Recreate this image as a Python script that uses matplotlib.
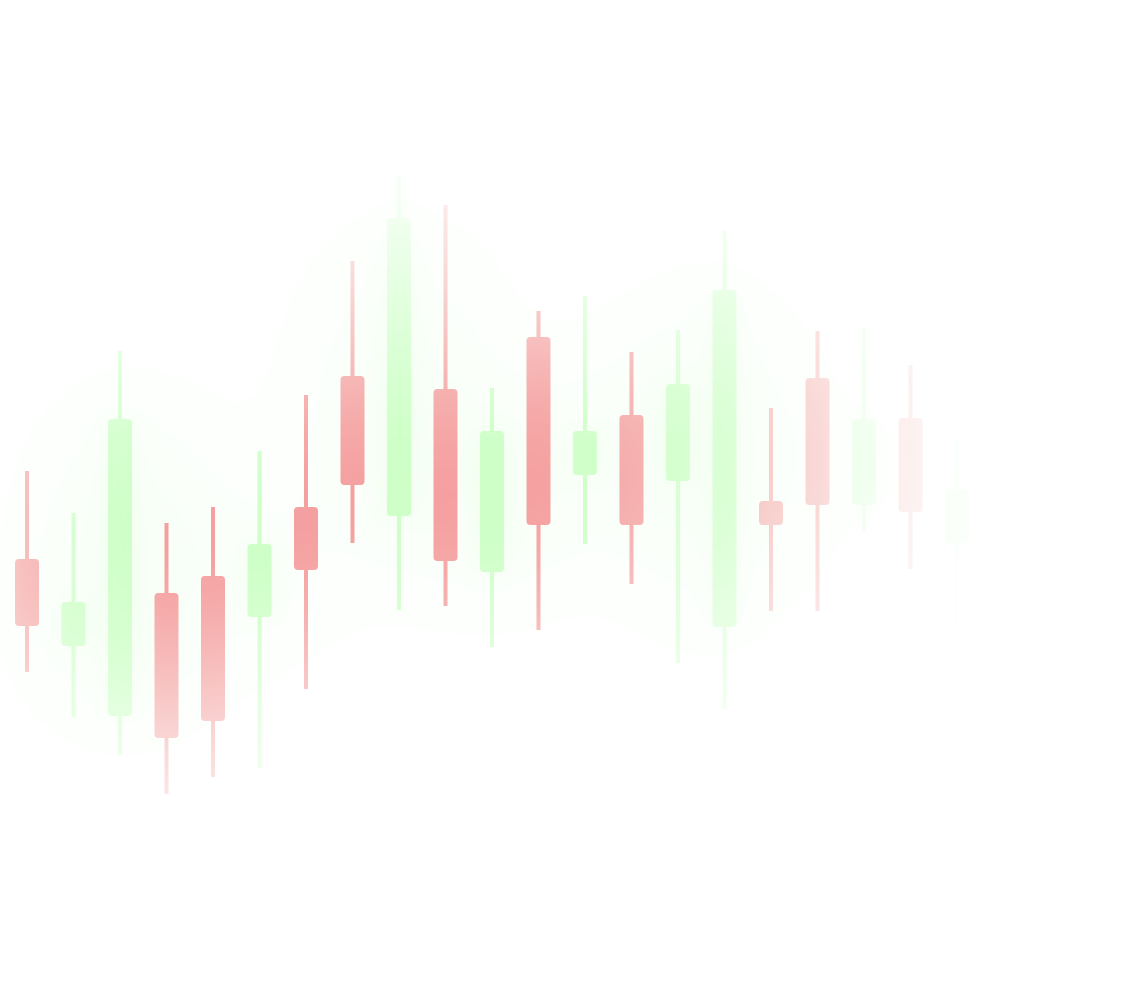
import numpy as np
import matplotlib
matplotlib.use("Agg")
import matplotlib.pyplot as plt
from matplotlib.patches import FancyBboxPatch, Rectangle, PathPatch
from matplotlib.path import Path

# ---------------- data ----------------
opens  = [44.3, 35.6, 28.6, 40.9, 42.6, 38.5, 49.5, 62.6, 48.6, 61.3, 43.0,
          66.5, 52.7, 58.7, 52.1, 37.5, 50.1, 62.4, 49.7, 58.4, 45.9]
closes = [37.6, 40.0, 58.3, 26.4, 28.1, 45.8, 43.2, 51.7, 78.4, 44.1, 57.1,
          47.7, 57.1, 47.7, 61.8, 71.2, 47.7, 49.7, 58.3, 49.0, 51.2]
highs  = [53.1, 48.9, 65.1, 47.9, 49.5, 55.1, 60.7, 74.1, 82.6, 79.7, 61.4,
          69.1, 70.6, 65.0, 67.2, 77.1, 59.4, 67.1, 67.5, 63.7, 56.3]
lows   = [33.0, 28.5, 24.7, 20.8, 22.5, 23.4, 31.3, 45.9, 39.2, 39.6, 35.5,
          37.2, 45.8, 41.8, 33.9, 29.3, 39.1, 39.1, 47.0, 43.3, 37.5]

RED = np.array([0xF5, 0x9F, 0x9F]) / 255.0
GREEN = np.array([0xC8, 0xFF, 0xC0]) / 255.0

W, H = 1140, 1002
fig = plt.figure(figsize=(W / 100, H / 100), dpi=100)
ax = fig.add_axes([0, 0, 1, 1])
XPX = 46.5      # px per candle slot
X0 = -27 / XPX
X1 = (W - 27) / XPX
YMAX = 100.2
ax.set_xlim(X0, X1)
ax.set_ylim(0, YMAX)
ax.axis("off")
fig.patch.set_facecolor("white")

sx = W / (X1 - X0)   # px per x unit
sy = H / YMAX        # px per y unit

# pixel grid (rows top->bottom)
px = np.arange(W) + 0.5
py = np.arange(H) + 0.5
PX, PY = np.meshgrid(px, py)

# ---- fade mask (pixel space) ----
hx_pts = [0, 27, 73, 120, 167, 539, 585, 632, 678, 725, 771, 818, 864, 911, 957, 1000, 1040]
hx_val = [0.55, 0.68, 0.80, 0.92, 1.0, 0.98, 0.93, 0.83, 0.76, 0.66, 0.50, 0.40, 0.23, 0.15, 0.07, 0.02, 0.0]
hmask = np.interp(px, hx_pts, hx_val)
center = 540 - 0.1 * PX
vmask = np.exp(-((PY - center) / 235.0) ** 2)
mask = hmask[None, :] * vmask


def erf(x):
    s = np.sign(x)
    a = np.abs(x)
    t = 1.0 / (1.0 + 0.3275911 * a)
    y = 1 - (((((1.061405429 * t - 1.453152027) * t) + 1.421413741) * t
              - 0.284496736) * t + 0.254829592) * t * np.exp(-a * a)
    return s * y


def blur_box(x0, x1, y0, y1, sig):
    gx = 0.5 * (erf((px - x0) / (np.sqrt(2) * sig)) - erf((px - x1) / (np.sqrt(2) * sig)))
    gy = 0.5 * (erf((py - y0) / (np.sqrt(2) * sig)) - erf((py - y1) / (np.sqrt(2) * sig)))
    return np.outer(gy, gx)


body_w = 0.516
wick_w = 0.086
rad = 4.0 / sx

# ---- glow from green candles ----
g_small = np.zeros((H, W))
g_large = np.zeros((H, W))
for i, (o, c) in enumerate(zip(opens, closes)):
    if c > o:
        xc = (i - X0) * sx
        x0p, x1p = xc - body_w / 2 * sx, xc + body_w / 2 * sx
        y0p, y1p = H - c * sy, H - o * sy
        g_small += blur_box(x0p, x1p, y0p, y1p, 12)
        g_large += blur_box(x0p, x1p, y0p, y1p, 70)
glow_mask = hmask[None, :] * np.exp(-((PY - center) / 290.0) ** 2)
glow_a = (0.2 * np.clip(g_small, 0, 1) + 0.9 * g_large) * glow_mask
glow_img = np.zeros((H, W, 4))
glow_img[..., :3] = GREEN
glow_img[..., 3] = np.clip(glow_a, 0, 1)
ax.imshow(glow_img, extent=(X0, X1, 0, YMAX), origin="upper", aspect="auto",
          interpolation="bilinear", zorder=1)

# ---- candles ----
paths = {"r": [], "g": []}
for i, (o, c, hi, lo) in enumerate(zip(opens, closes, highs, lows)):
    key = "g" if c > o else "r"
    top, bot = max(o, c), min(o, c)
    body = FancyBboxPatch((i - body_w / 2, bot), body_w, top - bot,
                          boxstyle=f"round,pad=0,rounding_size={rad}",
                          mutation_aspect=sx / sy)
    paths[key].append(body.get_path())
    up = Rectangle((i - wick_w / 2, top), wick_w, hi - top)
    dn = Rectangle((i - wick_w / 2, lo), wick_w, bot - lo)
    for r in (up, dn):
        paths[key].append(r.get_path().transformed(r.get_patch_transform()))

for key, col, amp in (("r", RED, 1.0), ("g", GREEN, 0.88)):
    img = np.zeros((H, W, 4))
    img[..., :3] = col
    img[..., 3] = np.clip(mask * amp, 0, 1)
    im = ax.imshow(img, extent=(X0, X1, 0, YMAX), origin="upper", aspect="auto",
                   interpolation="bilinear", zorder=2)
    cp = PathPatch(Path.make_compound_path(*paths[key]), transform=ax.transData,
                   facecolor="none", edgecolor="none")
    im.set_clip_path(cp)

ax.set_xlim(X0, X1)
ax.set_ylim(0, YMAX)
fig.savefig("out.png", dpi=100, facecolor="white")
